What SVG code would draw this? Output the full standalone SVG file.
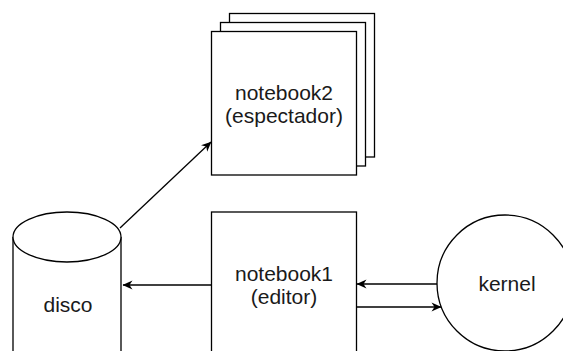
<svg xmlns="http://www.w3.org/2000/svg" width="563" height="351" viewBox="0 0 563 351">
<defs>
<style>
.s{fill:#fff;stroke:#000;stroke-width:1.3}
.t{font-family:"Liberation Sans",Arial,sans-serif;font-size:21px;fill:#1a1a1a;text-anchor:middle}
.c{fill:none;stroke:#000;stroke-width:1.3}
</style>
<marker id="a" viewBox="0 0 10 10" refX="9.5" refY="5" markerWidth="11" markerHeight="10" markerUnits="userSpaceOnUse" orient="auto">
<path d="M0,0.5 L10,5 L0,9.5 L3,5 z" fill="#000"/>
</marker>
</defs>
<rect width="563" height="351" fill="#fff"/>
<g id="notebook2">
<rect class="s" x="229.5" y="13.5" width="145" height="143.5"/>
<rect class="s" x="220.5" y="22.5" width="145" height="143.5"/>
<rect class="s" x="211.5" y="31.5" width="145" height="143.5"/>
<text class="t" x="284" y="100">notebook2</text>
<text class="t" x="284" y="123">(espectador)</text>
</g>
<g id="notebook1">
<rect class="s" x="211.5" y="212" width="145" height="150"/>
<text class="t" x="284" y="281">notebook1</text>
<text class="t" x="284" y="304">(editor)</text>
</g>
<g id="disco">
<path class="s" d="M13,237 L13,370 L121,370 L121,237"/>
<ellipse class="s" cx="67" cy="237" rx="54" ry="25"/>
<text class="t" x="68" y="312">disco</text>
</g>
<g id="kernel">
<circle class="s" cx="505" cy="283" r="68"/>
<text class="t" x="507" y="291">kernel</text>
</g>
<g id="connectors">
<line class="c" x1="120" y1="228" x2="211" y2="142" marker-end="url(#a)"/>
<line class="c" x1="211" y1="285" x2="123" y2="285" marker-end="url(#a)"/>
<line class="c" x1="437" y1="284" x2="357" y2="284" marker-end="url(#a)"/>
<line class="c" x1="357" y1="307" x2="441" y2="307" marker-end="url(#a)"/>
</g>
</svg>
